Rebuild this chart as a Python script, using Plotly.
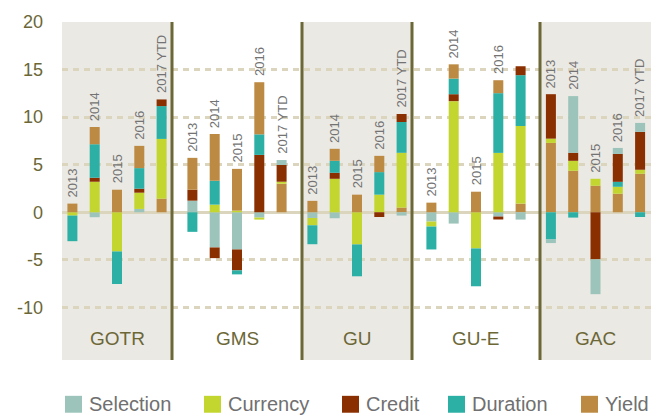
import plotly.graph_objects as go

# ---------------- data ----------------
groups = ["GOTR", "GMS", "GU", "GU-E", "GAC"]
years = ["2013", "2014", "2015", "2016", "2017 YTD"]
series_names = ["Selection", "Currency", "Credit", "Duration", "Yield"]

# values listed group by group (GOTR, GMS, GU, GU-E, GAC), 2013 .. 2017 YTD
selection = [0.00, -0.52, 0.00, 0.35, 0.00,
             1.22, -3.70, -3.91, -0.56, 0.52,
             -0.60, -0.63, 0.00, 0.00, -0.35,
             -0.98, -1.19, 0.00, -0.45, -0.77,
             -0.38, 5.96, -3.66, 0.63, 0.94]
currency = [-0.35, 3.21, -4.12, 1.71, 6.28,
            0.00, 0.80, 0.17, -0.21, 0.21,
            -0.77, 3.52, -3.38, 1.85, 5.76,
            -0.52, 11.68, -3.80, 6.24, 8.16,
            0.45, 1.05, 0.73, 0.73, 0.42]
credit = [0.00, 0.42, 0.00, 0.42, 0.70,
          1.15, -1.12, -2.20, 6.03, 1.76,
          0.00, 0.63, 0.00, -0.50, 0.84,
          0.00, 0.73, 0.00, -0.31, 0.94,
          4.67, 0.84, -4.95, 2.93, 3.98]
duration = [-2.69, 3.52, -3.42, 2.16, 3.45,
            -2.06, 2.51, -0.42, 2.16, 0.00,
            -1.99, 1.26, -3.35, 2.37, 3.24,
            -2.41, 1.64, -3.98, 6.28, 5.34,
            -2.86, -0.56, 0.00, 0.52, -0.50]
yield_ = [0.91, 1.81, 2.37, 2.34, 1.43,
          3.35, 4.92, 4.39, 5.48, 3.00,
          1.20, 1.26, 1.85, 1.71, 0.49,
          1.01, 1.50, 2.16, 1.36, 0.91,
          7.29, 4.36, 2.79, 1.95, 4.05]

# bars whose segments are stacked Yield-first (as in the source chart)
reverse_stack = [False, False, False, False, True] * 4 + [True] * 5
hidden_year_labels = [("GU-E", "2017 YTD")]

y_tick_values = [20, 15, 10, 5, 0, -5, -10]

# ---------------- style ----------------
colors = {"Selection": "#9cc4ba", "Currency": "#c3d62f", "Credit": "#8a2f00",
          "Duration": "#2cb0a6", "Yield": "#bc8a43"}
series = {"Selection": selection, "Currency": currency, "Credit": credit,
          "Duration": duration, "Yield": yield_}
FONT = "'Liberation Sans Narrow', 'Liberation Sans', Arial, sans-serif"
OLIVE = "#6b6737"
GRID = "#dcd5be"
BAND = "#ebe9e4"

# x axis in pixel-like units (plot area spans 62..651 of the window)
band_edges = [62, 172, 302, 412, 540, 651]
spacing = 22.3
xpos = []
for g in range(len(groups)):
    c = (band_edges[g] + band_edges[g + 1]) / 2
    for i in range(len(years)):
        xpos.append(c + (i - 2) * spacing)

fig = go.Figure()
normal_order = ["Selection", "Currency", "Credit", "Duration", "Yield"]
rev_order = ["Yield", "Currency", "Duration", "Credit", "Selection"]
for flag, order in [(False, normal_order), (True, rev_order)]:
    for name in order:
        vals = [v if (r == flag and v != 0) else None
                for v, r in zip(series[name], reverse_stack)]
        fig.add_trace(go.Bar(x=xpos, y=vals, width=10, name=name,
                             marker=dict(color=colors[name], line=dict(width=0)),
                             showlegend=False, hoverinfo="skip"))

shapes = []
for g in range(len(groups)):
    if g % 2 == 0:
        shapes.append(dict(type="rect", xref="x", yref="paper",
                           x0=band_edges[g], x1=band_edges[g + 1], y0=0, y1=1,
                           fillcolor=BAND, line=dict(width=0), layer="below"))
for e in band_edges[1:-1]:
    shapes.append(dict(type="line", xref="x", yref="paper", x0=e, x1=e, y0=0, y1=1,
                       line=dict(color=OLIVE, width=3), layer="above"))

annotations = []
# year labels above each bar
for g, grp in enumerate(groups):
    for i, yr in enumerate(years):
        k = g * len(years) + i
        if (grp, yr) in hidden_year_labels:
            continue
        top = sum(max(series[n][k], 0) for n in series_names)
        annotations.append(dict(x=xpos[k], y=top, xref="x", yref="y", text=yr,
                                textangle=-90, showarrow=False, yanchor="bottom",
                                xanchor="center", yshift=4,
                                font=dict(family=FONT, size=13, color="#737373")))
# group labels
for g, grp in enumerate(groups):
    annotations.append(dict(x=(band_edges[g] + band_edges[g + 1]) / 2, y=0.065,
                            xref="x", yref="paper", text=grp, showarrow=False,
                            yanchor="middle", xanchor="center",
                            font=dict(family=FONT, size=19, color=OLIVE)))

# custom legend
legend_x = [65, 204, 342, 448, 581]
for name, lx in zip(series_names, legend_x):
    shapes.append(dict(type="rect", xref="x", yref="paper", x0=lx, x1=lx + 17,
                       y0=-0.156, y1=-0.106, fillcolor=colors[name],
                       line=dict(width=0)))
    annotations.append(dict(x=lx + 22, y=-0.131, xref="x", yref="paper", text=name,
                            showarrow=False, xanchor="left", yanchor="middle",
                            font=dict(family=FONT, size=20, color="#707070")))

fig.update_layout(
    width=671, height=416,
    margin=dict(l=62, r=20, t=20, b=56),
    barmode="relative",
    plot_bgcolor="white", paper_bgcolor="white",
    shapes=shapes, annotations=annotations,
    showlegend=False,
    xaxis=dict(range=[62, 651], visible=False, fixedrange=True),
    yaxis=dict(range=[-15.53, 20.0], tickvals=y_tick_values,
               ticktext=[str(v) for v in y_tick_values], fixedrange=True,
               showgrid=True, gridcolor=GRID, gridwidth=3, griddash="6px,5px",
               zeroline=True, zerolinecolor=GRID, zerolinewidth=3,
               showline=False, ticks="", ticklabelstandoff=18,
               tickfont=dict(family=FONT, size=18, color=OLIVE)),
)

fig.write_html("out.html",
               config={"displayModeBar": False, "staticPlot": True},
               post_script="document.body.style.margin='0';"
                           "document.body.style.overflow='hidden';")
